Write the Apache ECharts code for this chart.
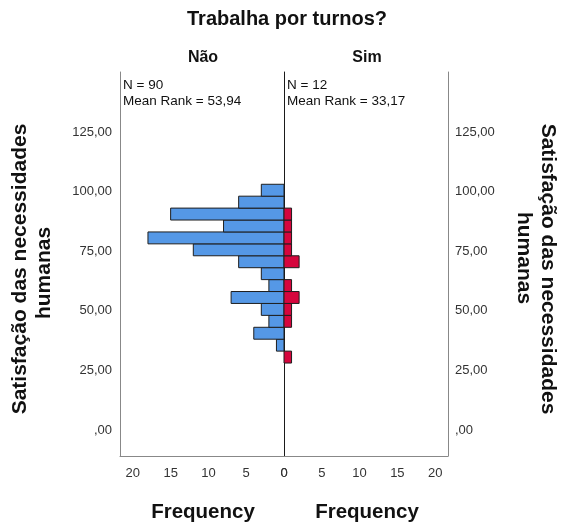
<!DOCTYPE html>
<html>
<head>
<meta charset="utf-8">
<script src="https://cdn.jsdelivr.net/npm/echarts@6/dist/echarts.min.js"></script>
<style>html,body{margin:0;padding:0;background:#fff;}#c{width:561px;height:524px;}</style>
</head>
<body>
<div id="c"></div>
<script>
// Histogram bins (lower edge of each bin, bin width) for "Satisfação das necessidades humanas"
var binLower = [28.1, 33.1, 38.1, 43.1, 48.1, 53.1, 58.1, 63.1, 68.1, 73.1, 78.1, 83.1, 88.1, 93.1, 98.1];
var binWidth = 5;
// Frequencies per bin, group "Não"
var countsNao = [0, 1, 4, 2, 3, 7, 2, 3, 6, 12, 18, 8, 15, 6, 3];
// Frequencies per bin, group "Sim"
var countsSim = [1, 0, 0, 1, 1, 2, 1, 0, 2, 1, 1, 1, 1, 0, 0];
var groups = ['Não', 'Sim'];
var groupN = ['N = 90', 'N = 12'];
var groupMeanRank = ['Mean Rank = 53,94', 'Mean Rank = 33,17'];
var yTickValues = [0, 25, 50, 75, 100, 125];
var yTickLabels = [',00', '25,00', '50,00', '75,00', '100,00', '125,00'];
var xTickValues = [0, 5, 10, 15, 20];
var xTickLabels = ['0', '5', '10', '15', '20'];

var FONT = '"Liberation Sans", Arial, sans-serif';
var Y_MIN = -10.9, Y_MAX = 150.2, X_MAX = 21.7;

function toData(counts) {
  var out = [];
  for (var i = 0; i < counts.length; i++) {
    if (counts[i] > 0) out.push([binLower[i], binLower[i] + binWidth, counts[i]]);
  }
  return out;
}
function yFmt(v) {
  var i = yTickValues.indexOf(Math.round(v * 100) / 100);
  return i >= 0 ? yTickLabels[i] : '';
}
function xFmt(v) {
  var i = xTickValues.indexOf(Math.round(v * 100) / 100);
  return i >= 0 ? xTickLabels[i] : '';
}
function makeRender() {
  return function (params, api) {
    var lo = api.value(0), hi = api.value(1), c = api.value(2);
    var p1 = api.coord([0, lo]);
    var p2 = api.coord([c, hi]);
    var x = Math.min(p1[0], p2[0]), w = Math.abs(p2[0] - p1[0]);
    var y = Math.min(p1[1], p2[1]), h = Math.abs(p2[1] - p1[1]);
    return {
      type: 'rect',
      shape: { x: x, y: y, width: w, height: h },
      style: api.style({ stroke: '#1e1e1e', lineWidth: 1 })
    };
  };
}

var grids = [
  { left: 120, top: 72, width: 164, height: 384 },
  { left: 284, top: 72, width: 164, height: 384 }
];
var axisLabelStyle = { color: '#333', fontSize: 13, fontFamily: FONT };
var grayLine = { show: true, onZero: false, lineStyle: { color: '#888', width: 1 } };
var yTitle = 'Satisfação das necessidades';
var yTitle2 = 'humanas';

var option = {
  animation: false,
  backgroundColor: '#fff',
  grid: grids,
  xAxis: [
    { gridIndex: 0, type: 'value', inverse: true, min: 0, max: X_MAX,
      axisLine: grayLine,
      axisTick: { show: false }, splitLine: { show: false },
      axisLabel: Object.assign({ customValues: xTickValues, formatter: xFmt, margin: 11 }, axisLabelStyle) },
    { gridIndex: 1, type: 'value', min: 0, max: X_MAX,
      axisLine: grayLine,
      axisTick: { show: false }, splitLine: { show: false },
      axisLabel: Object.assign({ customValues: xTickValues, formatter: xFmt, margin: 11 }, axisLabelStyle) }
  ],
  yAxis: [
    { gridIndex: 0, type: 'value', position: 'left', min: Y_MIN, max: Y_MAX,
      axisLine: grayLine,
      axisTick: { show: false }, splitLine: { show: false },
      axisLabel: Object.assign({ customValues: yTickValues, formatter: yFmt, margin: 8 }, axisLabelStyle) },
    { gridIndex: 1, type: 'value', position: 'right', min: Y_MIN, max: Y_MAX,
      axisLine: grayLine,
      axisTick: { show: false }, splitLine: { show: false },
      axisLabel: Object.assign({ customValues: yTickValues, formatter: yFmt, margin: 7 }, axisLabelStyle) },
    { gridIndex: 1, type: 'value', position: 'left', min: Y_MIN, max: Y_MAX,
      axisLine: { show: true, onZero: false, lineStyle: { color: '#1a1a1a', width: 1 } },
      axisTick: { show: false }, splitLine: { show: false }, axisLabel: { show: false } }
  ],
  series: [
    { type: 'custom', name: groups[0], xAxisIndex: 0, yAxisIndex: 0, renderItem: makeRender(),
      itemStyle: { color: '#5598e6' }, encode: { x: 2, y: [0, 1] }, data: toData(countsNao), clip: false },
    { type: 'custom', name: groups[1], xAxisIndex: 1, yAxisIndex: 1, renderItem: makeRender(),
      itemStyle: { color: '#d5063d' }, encode: { x: 2, y: [0, 1] }, data: toData(countsSim), clip: false }
  ],
  graphic: [
    { type: 'text', x: 287, y: 19, style: { text: 'Trabalha por turnos?', font: 'bold 20px ' + FONT, fill: '#111', align: 'center', verticalAlign: 'middle' } },
    { type: 'text', x: 203, y: 58, style: { text: groups[0], font: 'bold 16px ' + FONT, fill: '#111', align: 'center', verticalAlign: 'middle' } },
    { type: 'text', x: 367, y: 58, style: { text: groups[1], font: 'bold 16px ' + FONT, fill: '#111', align: 'center', verticalAlign: 'middle' } },
    { type: 'text', x: 123, y: 85, style: { text: groupN[0], font: '13.5px ' + FONT, fill: '#111', align: 'left', verticalAlign: 'middle' } },
    { type: 'text', x: 123, y: 101, style: { text: groupMeanRank[0], font: '13.5px ' + FONT, fill: '#111', align: 'left', verticalAlign: 'middle' } },
    { type: 'text', x: 287, y: 85, style: { text: groupN[1], font: '13.5px ' + FONT, fill: '#111', align: 'left', verticalAlign: 'middle' } },
    { type: 'text', x: 287, y: 101, style: { text: groupMeanRank[1], font: '13.5px ' + FONT, fill: '#111', align: 'left', verticalAlign: 'middle' } },
    { type: 'text', x: 203, y: 512, style: { text: 'Frequency', font: 'bold 20.5px ' + FONT, fill: '#111', align: 'center', verticalAlign: 'middle' } },
    { type: 'text', x: 367, y: 512, style: { text: 'Frequency', font: 'bold 20.5px ' + FONT, fill: '#111', align: 'center', verticalAlign: 'middle' } },
    { type: 'text', x: 20, y: 269, rotation: Math.PI / 2, style: { text: yTitle, font: 'bold 21px ' + FONT, fill: '#111', align: 'center', verticalAlign: 'middle' } },
    { type: 'text', x: 44, y: 273, rotation: Math.PI / 2, style: { text: yTitle2, font: 'bold 21px ' + FONT, fill: '#111', align: 'center', verticalAlign: 'middle' } },
    { type: 'text', x: 548, y: 269, rotation: -Math.PI / 2, style: { text: yTitle, font: 'bold 21px ' + FONT, fill: '#111', align: 'center', verticalAlign: 'middle' } },
    { type: 'text', x: 524, y: 258, rotation: -Math.PI / 2, style: { text: yTitle2, font: 'bold 21px ' + FONT, fill: '#111', align: 'center', verticalAlign: 'middle' } }
  ]
};
var chart = echarts.init(document.getElementById('c'), null, { renderer: 'canvas' });
chart.setOption(option);
</script>
</body>
</html>
